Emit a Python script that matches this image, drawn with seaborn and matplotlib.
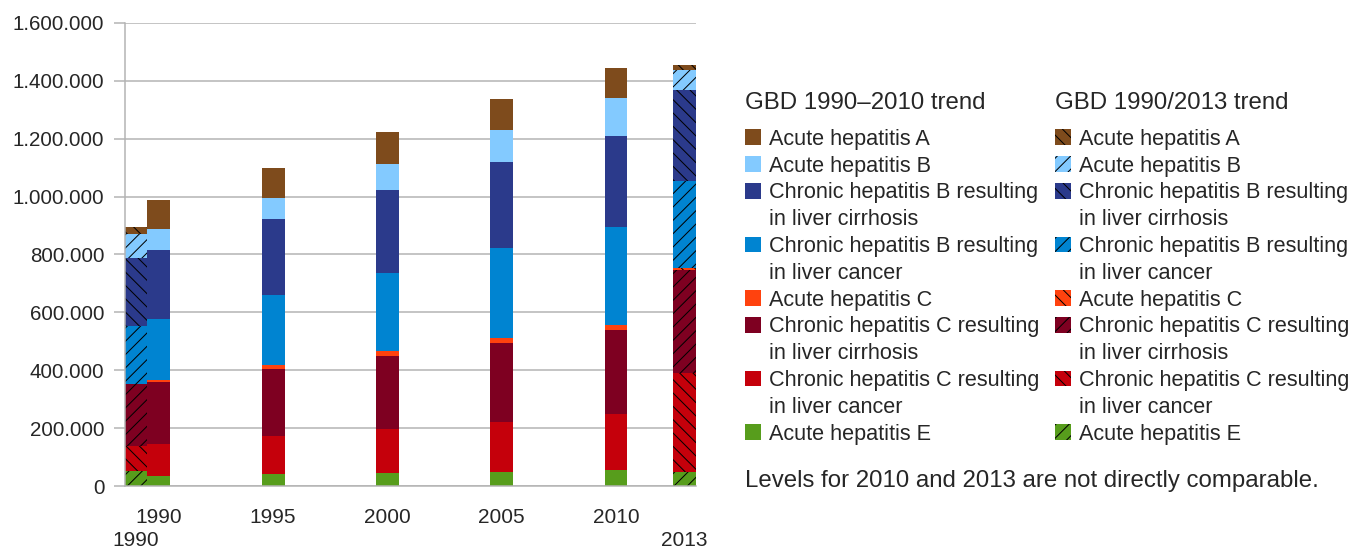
import numpy as np
import matplotlib.pyplot as plt
import seaborn as sns
from matplotlib.patches import Patch
from matplotlib.ticker import FuncFormatter, MultipleLocator

# causes, top of the stack first
causes = [
    "Acute hepatitis A",
    "Acute hepatitis B",
    "Chronic hepatitis B resulting\nin liver cirrhosis",
    "Chronic hepatitis B resulting\nin liver cancer",
    "Acute hepatitis C",
    "Chronic hepatitis C resulting\nin liver cirrhosis",
    "Chronic hepatitis C resulting\nin liver cancer",
    "Acute hepatitis E",
]
colors = ["#7e4b1c", "#83caff", "#2b3a8b", "#0084d1",
          "#ff420e", "#7e0021", "#c5000b", "#579d1c"]
hatches = ["\\\\", "//", "\\\\", "//", "\\\\", "//", "\\\\", "//"]

# category slots on the x axis (one per year, plus the GBD 2013 1990 bar in front)
slots = ["1990 (GBD 2013)"] + [str(y) for y in range(1990, 2013)] + ["2013 (GBD 2013)"]
tick_labels = ["", "1990", "", "", "", "", "1995", "", "", "", "", "2000",
               "", "", "", "", "2005", "", "", "", "", "2010", "", "", ""]
# second row of labels, for the GBD 1990/2013 bars
second_row = {"1990 (GBD 2013)": "1990", "2013 (GBD 2013)": "2013"}

# GBD 1990-2010 trend
years_2010 = ["1990", "1995", "2000", "2005", "2010"]
gbd2010 = [
    [100000, 103000, 110000, 107000, 104000],   # acute A
    [73000, 73000, 90000, 110000, 131000],      # acute B
    [238000, 262000, 287000, 297000, 314000],   # chronic B cirrhosis
    [210000, 242000, 270000, 311000, 339000],   # chronic B cancer
    [8000, 14000, 16000, 17000, 17000],         # acute C
    [214000, 230000, 253000, 273000, 290000],   # chronic C cirrhosis
    [110000, 131000, 151000, 173000, 194000],   # chronic C cancer
    [34000, 43000, 46000, 48000, 55000],        # acute E
]

# GBD 1990/2013 trend
years_2013 = ["1990 (GBD 2013)", "2013 (GBD 2013)"]
gbd2013 = [
    [24000, 17000],
    [83000, 69000],
    [234000, 314000],
    [200000, 300000],
    [2000, 7000],
    [214000, 355000],
    [87000, 342000],
    [51000, 50000],
]

sns.set_style("white")
plt.rcParams["font.family"] = ["Liberation Sans", "DejaVu Sans"]
plt.rcParams["hatch.linewidth"] = 0.9

GRID = "#b3b3b3"
W, H, DPI = 1348, 549, 80
fig = plt.figure(figsize=(W / DPI, H / DPI), dpi=DPI)
ax = fig.add_axes([124.5 / W, 1 - 486 / H, (696 - 124.5) / W, (486 - 23) / H])

v10 = np.array(gbd2010)
v13 = np.array(gbd2013)
# draw cumulative bars from the tallest layer down so each layer shows its own segment
for i in range(len(causes)):
    sns.barplot(x=years_2010, y=v10[i:].sum(axis=0), order=slots, color=colors[i],
                saturation=1, width=1, linewidth=0, errorbar=None, ax=ax)
    sns.barplot(x=years_2013, y=v13[i:].sum(axis=0), order=slots, color=colors[i],
                saturation=1, width=1, linewidth=0, edgecolor="black",
                hatch=hatches[i], errorbar=None, ax=ax)

ax.set_xlim(-0.5, len(slots) - 0.5)
ax.set_ylim(0, 1600000)
ax.set_xlabel("")
ax.set_ylabel("")
ax.set_axisbelow(True)

ax.yaxis.set_major_locator(MultipleLocator(200000))
ax.yaxis.set_major_formatter(FuncFormatter(lambda v, p: f"{int(v):,}".replace(",", ".")))
ax.yaxis.grid(True, color=GRID, linewidth=1.35)
ax.xaxis.grid(False)

ax.set_xticks(range(len(slots)))
ax.set_xticklabels(tick_labels)
ax.set_xticks(np.arange(-0.5, len(slots), 1), minor=True)
ax.tick_params(axis="x", which="major", length=0, pad=19.5, labelsize=18.8)
ax.tick_params(axis="x", which="minor", length=10, width=1.35, color=GRID, direction="out")
ax.tick_params(axis="y", which="major", length=10, width=1.35, color=GRID,
               direction="out", pad=8, labelsize=18.5, left=True)
for slot, text in second_row.items():
    ax.annotate(text, xy=(slots.index(slot), 0), xycoords=("data", "axes fraction"),
                xytext=(0, -49), textcoords="offset points",
                ha="center", va="center", fontsize=18.8)

for side in ["top", "right"]:
    ax.spines[side].set_visible(False)
for side in ["left", "bottom"]:
    ax.spines[side].set_color(GRID)
    ax.spines[side].set_linewidth(1.35)


def legend_rows(hatched):
    handles, labels = [], []
    for cause, col, h in zip(causes, colors, hatches):
        first, *rest = cause.split("\n")
        if hatched:
            handles.append(Patch(facecolor=col, edgecolor="black", linewidth=0, hatch=h))
        else:
            handles.append(Patch(facecolor=col, edgecolor=col, linewidth=0))
        labels.append(first)
        for line in rest:
            handles.append(Patch(facecolor="none", edgecolor="none"))
            labels.append(line)
    return handles, labels


for title, hatched, x0 in [("GBD 1990\u20132010 trend", False, 745),
                           ("GBD 1990/2013 trend", True, 1055)]:
    handles, labels = legend_rows(hatched)
    leg = fig.legend(handles, labels, loc="upper left",
                     bbox_to_anchor=(x0 / W, 1 - 92 / H), frameon=False,
                     title=title, alignment="left", fontsize=19.5, title_fontsize=21.6,
                     handlelength=0.74, handleheight=0.74, handletextpad=0.37,
                     labelspacing=0.268, borderpad=0, borderaxespad=0)
    leg._legend_box.sep = 13.3

fig.text(745 / W, 1 - 481 / H, "Levels for 2010 and 2013 are not directly comparable.",
         fontsize=21.6, va="center", ha="left")

fig.savefig("out.png", dpi=DPI)
